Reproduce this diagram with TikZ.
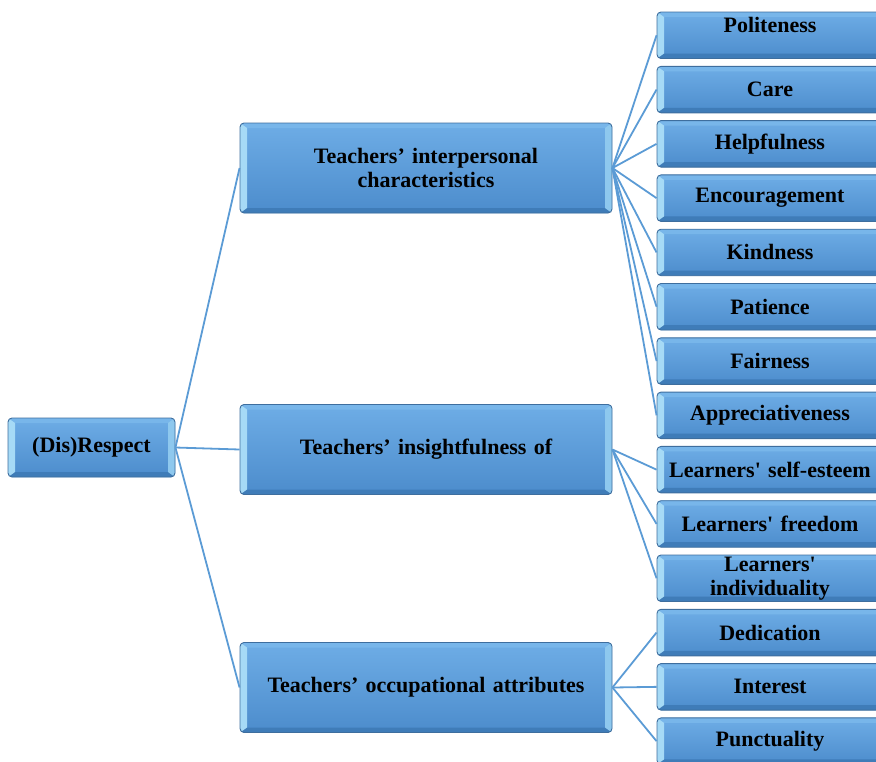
\documentclass[tikz,border=0pt]{standalone}
\usepackage{fontspec}
\setmainfont{Liberation Serif}[Ligatures=TeXOff]
\definecolor{boxline}{HTML}{3E6E9E}
\definecolor{boxtop}{HTML}{6EADE6}
\definecolor{boxbot}{HTML}{4C8CCC}
\definecolor{bevL}{HTML}{A6DAF6}
\definecolor{bevR}{HTML}{8EC8EE}
\definecolor{bevT}{HTML}{78B6EA}
\definecolor{bevB}{HTML}{3F7CB8}
\definecolor{conn}{HTML}{5B9BD5}
\tikzset{
  bx/.style={draw=boxline, line width=0.9pt, rounded corners=4pt,
    top color=boxtop, bottom color=boxbot, align=center,
    font=\bfseries\fontsize{22}{24}\selectfont, text=black, inner sep=0pt,
    path picture={
      \fill[bevT, sharp corners] (path picture bounding box.north west) -- (path picture bounding box.north east)
        -- ([shift={(-6pt,-5pt)}]path picture bounding box.north east) -- ([shift={(6pt,-5pt)}]path picture bounding box.north west) -- cycle;
      \fill[bevB, sharp corners] (path picture bounding box.south west) -- (path picture bounding box.south east)
        -- ([shift={(-6pt,5pt)}]path picture bounding box.south east) -- ([shift={(6pt,5pt)}]path picture bounding box.south west) -- cycle;
      \fill[bevL, sharp corners] (path picture bounding box.south west) -- (path picture bounding box.north west)
        -- ([shift={(7pt,-5pt)}]path picture bounding box.north west) -- ([shift={(7pt,5pt)}]path picture bounding box.south west) -- cycle;
      \fill[bevR, sharp corners] (path picture bounding box.south east) -- (path picture bounding box.north east)
        -- ([shift={(-7pt,-5pt)}]path picture bounding box.north east) -- ([shift={(-7pt,5pt)}]path picture bounding box.south east) -- cycle;
    }},
  rootbox/.style={bx, minimum width=167pt, minimum height=59pt},
  midbox/.style={bx, minimum width=372pt, minimum height=90pt, text width=350pt},
  leafbox/.style={bx, minimum width=226pt, minimum height=46.5pt, text width=226pt},
  link/.style={draw=conn, line width=1.8pt},
}
\begin{document}
\begin{tikzpicture}[x=1pt, y=-1pt]
\useasboundingbox (0,0) rectangle (876,761);
\node[rootbox] (root) at (91.5,447.5) {(Dis)Respect};
\node[midbox] (m1) at (426,168) {Teachers’ interpersonal\\characteristics};
\node[midbox] (m2) at (426,449.5) {Teachers’ insightfulness of};
\node[midbox] (m3) at (426,687.5) {Teachers’ occupational attributes};
\foreach \n/\t [count=\i from 0] in {
  l0/{Politeness\\[-4pt]\mbox{}}, l1/Care, l2/Helpfulness, l3/Encouragement, l4/Kindness,
  l5/Patience, l6/Fairness, l7/Appreciativeness, l8/{Learners' self-esteem},
  l9/{Learners' freedom}, l10/{Learners'\\individuality}, l11/Dedication,
  l12/Interest, l13/Punctuality}
  \node[leafbox] (\n) at (770,35.25+54.3*\i) {\t};
\foreach \m in {m1,m2,m3} \draw[link] (root.east) -- (\m.west);
\foreach \l in {l0,l1,l2,l3,l4,l5,l6,l7} \draw[link] (m1.east) -- (\l.west);
\foreach \l in {l8,l9,l10} \draw[link] (m2.east) -- (\l.west);
\foreach \l in {l11,l12,l13} \draw[link] (m3.east) -- (\l.west);
\end{tikzpicture}
\end{document}
